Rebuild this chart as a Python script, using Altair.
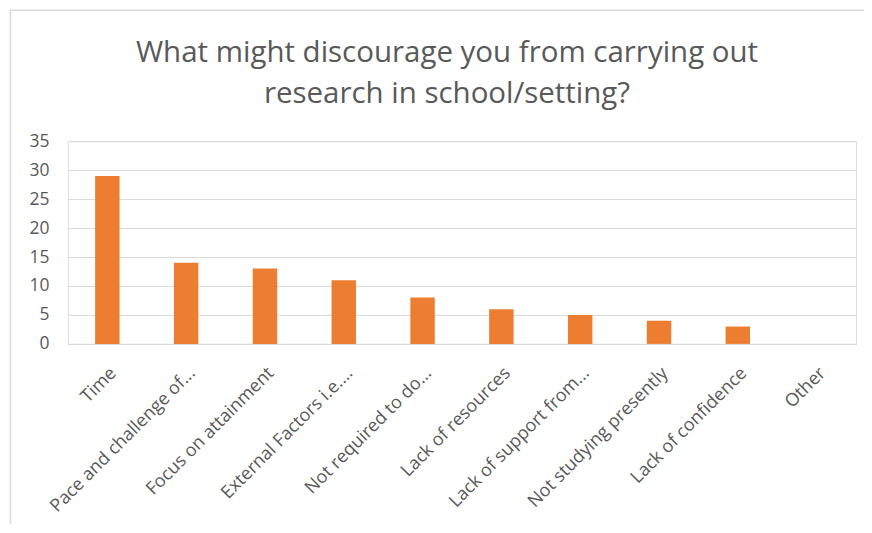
import altair as alt
import pandas as pd

categories = [
    "Time",
    "Pace and challenge of...",
    "Focus on attainment",
    "External Factors i.e....",
    "Not required to do...",
    "Lack of resources",
    "Lack of support from...",
    "Not studying presently",
    "Lack of confidence",
    "Other",
]
counts = [29, 14, 13, 11, 8, 6, 5, 4, 3, 0]
y_ticks = [0, 5, 10, 15, 20, 25, 30, 35]

df = pd.DataFrame({"category": categories, "count": counts})

FONT = "Open Sans"
GRAY = "#595959"
GRID = "#D9D9D9"

bars = alt.Chart(df).mark_bar(color="#ED7D31").encode(
    x=alt.X(
        "category:N",
        sort=categories,
        title=None,
        scale=alt.Scale(paddingInner=0.69, paddingOuter=0.345),
        axis=alt.Axis(
            labelAngle=-45,
            labelFont=FONT,
            labelFontSize=18,
            labelColor=GRAY,
            ticks=False,
            labelPadding=20,
            domainColor=GRID,
            labelLimit=400,
        ),
    ),
    y=alt.Y(
        "count:Q",
        title=None,
        scale=alt.Scale(domain=[0, 35], nice=False),
        axis=alt.Axis(
            values=y_ticks,
            labelFont=FONT,
            labelFontSize=17.5,
            labelColor=GRAY,
            ticks=False,
            domain=False,
            gridColor=GRID,
            labelPadding=19,
        ),
    ),
)

frame_data = alt.Data(values=[{"k": 1}])
left_border = alt.Chart(frame_data).mark_rule(color=GRID, strokeWidth=1.5).encode(
    x=alt.value(-57.5), y=alt.value(-131), y2=alt.value(400)
)
top_border = alt.Chart(frame_data).mark_rule(color=GRID, strokeWidth=1.5).encode(
    x=alt.value(-58), x2=alt.value(800), y=alt.value(-131)
)

chart = (
    alt.layer(bars, left_border, top_border)
    .properties(
        width=789,
        height=203,
        title=alt.TitleParams(
            text=["What might discourage you from carrying out", "research in school/setting?"],
            font=FONT,
            fontSize=29.5,
            fontWeight="normal",
            color=GRAY,
            lineHeight=41,
            anchor="middle",
            dx=-15,
            offset=-100,
        ),
        autosize=alt.AutoSizeParams(type="none"),
        padding={"left": 60, "top": 133, "right": 8, "bottom": 180},
    )
    .configure_view(stroke=None)
    .configure(background="white")
)

chart.save("out.html", embed_options={"renderer": "svg", "actions": False})
